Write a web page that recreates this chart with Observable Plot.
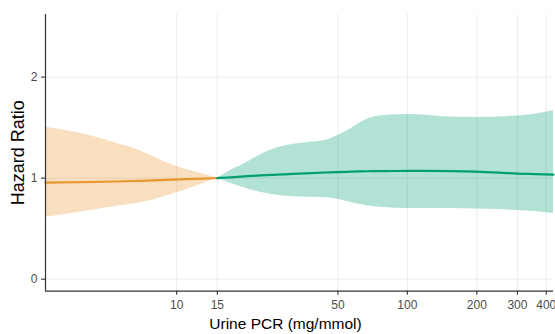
<!DOCTYPE html>
<html>
<head>
<meta charset="utf-8">
<script src="https://cdn.jsdelivr.net/npm/d3@7"></script>
<script src="https://cdn.jsdelivr.net/npm/@observablehq/plot@0.6"></script>
<style>
  html, body { margin: 0; padding: 0; background: #fff; }
  #chart { width: 555px; height: 334px; }
</style>
</head>
<body>
<div id="chart"></div>
<script>
// Below reference (PCR < 15)
const lowX     = [2.7, 4.24, 5.4, 6.98, 9.7, 12.1, 15];
const lowHR    = [0.955, 0.962, 0.967, 0.974, 0.986, 0.993, 1.0];
const lowUpper = [1.505, 1.42, 1.35, 1.27, 1.126, 1.06, 1.0];
const lowLower = [0.614, 0.68, 0.72, 0.756, 0.845, 0.92, 1.0];

// Above reference (PCR >= 15)
const highX     = [15, 17.1, 19.6, 23, 27.3, 32.2, 38.1, 44.3, 49.8, 56.8, 62.8, 70, 79.3, 100, 154, 198, 250, 300, 360, 430];
const highHR    = [1.0, 1.008, 1.017, 1.027, 1.035, 1.043, 1.05, 1.056, 1.06, 1.064, 1.067, 1.069, 1.07, 1.072, 1.07, 1.065, 1.055, 1.045, 1.04, 1.035];
const highUpper = [1.0, 1.076, 1.14, 1.23, 1.30, 1.335, 1.355, 1.375, 1.42, 1.49, 1.55, 1.60, 1.62, 1.63, 1.605, 1.60, 1.605, 1.615, 1.635, 1.67];
const highLower = [1.0, 0.95, 0.905, 0.86, 0.83, 0.815, 0.81, 0.805, 0.79, 0.76, 0.74, 0.72, 0.71, 0.70, 0.70, 0.695, 0.69, 0.68, 0.67, 0.65];

const xTicks = [10, 15, 50, 100, 200, 300, 400];
const yTicks = [0, 1, 2];
const xLabel = "Urine PCR (mg/mmol)";
const yLabel = "Hazard Ratio";

const orange = "#e8962e";
const green = "#009e73";

const low = lowX.map((x, i) => ({x, hr: lowHR[i], lo: lowLower[i], hi: lowUpper[i]}));
const high = highX.map((x, i) => ({x, hr: highHR[i], lo: highLower[i], hi: highUpper[i]}));

const xDomain = [2.7, 430];
const yDomain = [-0.119, 2.62];
// tick length (4px) expressed in each scale's units
const yTickLen = 4 / 101;
const xTickFactor = Math.pow(10, 4 / 230.7);

const axisColor = "#333";
const tickTextColor = "#4d4d4d";

const chart = Plot.plot({
  width: 555,
  height: 334,
  marginLeft: 45,
  marginRight: 2,
  marginTop: 14,
  marginBottom: 43.3,
  style: {fontFamily: "'Liberation Sans', Arial, sans-serif", background: "#fff"},
  x: {type: "log", domain: xDomain, axis: null},
  y: {domain: yDomain, axis: null},
  marks: [
    Plot.gridX(xTicks, {stroke: "#ebebeb", strokeOpacity: 1}),
    Plot.gridY(yTicks, {stroke: "#ebebeb", strokeOpacity: 1}),
    Plot.areaY(low, {x: "x", y1: "lo", y2: "hi", fill: orange, fillOpacity: 0.3, curve: "monotone-x"}),
    Plot.areaY(high, {x: "x", y1: "lo", y2: "hi", fill: green, fillOpacity: 0.3, curve: "monotone-x"}),
    Plot.line(low, {x: "x", y: "hr", stroke: orange, strokeWidth: 2.2, curve: "monotone-x"}),
    Plot.line(high, {x: "x", y: "hr", stroke: green, strokeWidth: 2.2, curve: "monotone-x"}),
    // axis lines
    Plot.ruleX([xDomain[0]], {stroke: axisColor, strokeWidth: 1.2}),
    Plot.ruleY([yDomain[0]], {stroke: axisColor, strokeWidth: 1.2}),
    // x ticks and labels
    Plot.ruleX(xTicks, {x: d => d, y1: yDomain[0], y2: yDomain[0] - yTickLen, stroke: axisColor, strokeWidth: 1.1}),
    Plot.text(xTicks, {x: d => d, text: d => String(d), frameAnchor: "bottom", lineAnchor: "top", textAnchor: "middle", dy: 9, fontSize: 12, fill: tickTextColor}),
    // y ticks and labels
    Plot.ruleY(yTicks, {y: d => d, x1: xDomain[0], x2: xDomain[0] / xTickFactor, stroke: axisColor, strokeWidth: 1.1}),
    Plot.text(yTicks, {y: d => d, text: d => String(d), frameAnchor: "left", textAnchor: "end", lineAnchor: "middle", dx: -8, fontSize: 12, fill: tickTextColor}),
    // axis titles
    Plot.text([xLabel], {frameAnchor: "bottom", textAnchor: "middle", lineAnchor: "middle", dx: -14, dy: 32.5, fontSize: 15.5, fill: "#000"}),
    Plot.text([yLabel], {frameAnchor: "left", textAnchor: "middle", lineAnchor: "middle", rotate: -90, dx: -27, fontSize: 18, fill: "#000"})
  ]
});
document.getElementById("chart").appendChild(chart);
</script>
</body>
</html>
